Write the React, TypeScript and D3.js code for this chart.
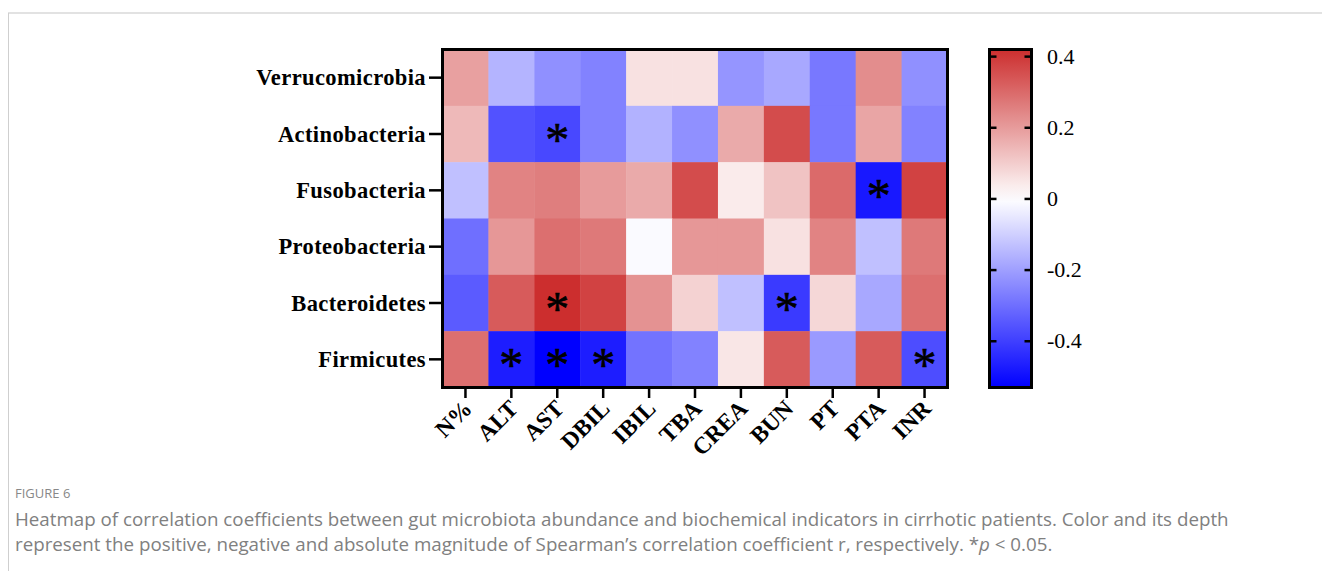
import React from "react";
import * as d3 from "d3";

const rows = ["Verrucomicrobia", "Actinobacteria", "Fusobacteria", "Proteobacteria", "Bacteroidetes", "Firmicutes"];
const cols = ["N%", "ALT", "AST", "DBIL", "IBIL", "TBA", "CREA", "BUN", "PT", "PTA", "INR"];

const verrucomicrobia = [0.19, -0.155, -0.23, -0.26, 0.06, 0.06, -0.22, -0.18, -0.28, 0.23, -0.23];
const actinobacteria = [0.14, -0.36, -0.38, -0.26, -0.16, -0.23, 0.17, 0.36, -0.28, 0.18, -0.26];
const fusobacteria = [-0.13, 0.25, 0.26, 0.2, 0.17, 0.36, 0.04, 0.12, 0.3, -0.48, 0.38];
const proteobacteria = [-0.3, 0.21, 0.29, 0.27, -0.01, 0.21, 0.21, 0.06, 0.25, -0.13, 0.27];
const bacteroidetes = [-0.34, 0.33, 0.42, 0.38, 0.22, 0.09, -0.13, -0.41, 0.08, -0.18, 0.29];
const firmicutes = [0.29, -0.47, -0.53, -0.47, -0.29, -0.26, 0.05, 0.33, -0.21, 0.33, -0.37];
const values = [verrucomicrobia, actinobacteria, fusobacteria, proteobacteria, bacteroidetes, firmicutes];

// significant cells: [row, col]
const significant: [number, number][] = [
  [1, 2], [2, 9], [4, 2], [4, 7], [5, 1], [5, 2], [5, 3], [5, 10],
];

const colorTicks = [0.4, 0.2, 0, -0.2, -0.4];
const colorTickLabels = ["0.4", "0.2", "0", "-0.2", "-0.4"];
const colorDomain = [-0.53, 0, 0.42];

export default function App() {
  const left = 442.5, right = 947.5, top = 49.5, bottom = 387.5;
  const x = d3.scaleBand<string>().domain(cols).range([left, right]);
  const y = d3.scaleBand<string>().domain(rows).range([top, bottom]);
  const color = d3
    .scaleLinear<string>()
    .domain(colorDomain)
    .range(["#0000ff", "#ffffff", "#cc2e2e"])
    .interpolate(d3.interpolateRgb);

  const cbLeft = 989.5, cbRight = 1031.5, cbTop = 49.5, cbBottom = 387.5;
  const cy = d3.scaleLinear().domain([colorDomain[0], colorDomain[2]]).range([cbBottom, cbTop]);
  const gradStops = d3.range(0, 1.0001, 0.05).map((t) => {
    const v = colorDomain[0] + t * (colorDomain[2] - colorDomain[0]);
    return { off: t, c: color(v) };
  });

  const serif = "'Liberation Serif', 'Times New Roman', serif";
  const sans = "'Open Sans', 'Noto Sans', sans-serif";

  return (
    <svg width={1322} height={571} style={{ position: "absolute", left: 0, top: 0, background: "#fff" }}>
      <defs>
        <linearGradient id="cbg" x1="0" y1="1" x2="0" y2="0">
          {gradStops.map((s, i) => (
            <stop key={i} offset={s.off} stopColor={s.c} />
          ))}
        </linearGradient>
      </defs>
      {/* page frame */}
      <line x1={8} x2={1322} y1={13} y2={13} stroke="#e2e2e2" strokeWidth={2} />
      <line x1={8.5} x2={8.5} y1={13} y2={571} stroke="#cfcfcf" strokeWidth={1} />

      {/* cells */}
      {values.map((row, ri) =>
        row.map((v, ci) => (
          <rect
            key={`${ri}-${ci}`}
            x={x(cols[ci])}
            y={y(rows[ri])}
            width={x.bandwidth() + 0.5}
            height={y.bandwidth() + 0.5}
            fill={color(v)}
          />
        ))
      )}
      {significant.map(([ri, ci], i) => (
        <text
          key={i}
          x={(x(cols[ci]) as number) + x.bandwidth() / 2}
          y={(y(rows[ri]) as number) + y.bandwidth() / 2 + 22}
          textAnchor="middle"
          fontFamily={serif}
          fontSize={48}
          stroke="#000"
          strokeWidth={0.6}
          fill="#000"
        >
          *
        </text>
      ))}
      <rect x={left} y={top} width={right - left} height={bottom - top} fill="none" stroke="#000" strokeWidth={3} />

      {/* y axis */}
      {rows.map((r) => {
        const yc = (y(r) as number) + y.bandwidth() / 2;
        return (
          <g key={r}>
            <line x1={429} x2={left} y1={yc} y2={yc} stroke="#000" strokeWidth={2.5} />
            <text x={426} y={yc + 7.5} textAnchor="end" fontFamily={serif} fontWeight="bold" fontSize={22.5} letterSpacing={0.4}>
              {r}
            </text>
          </g>
        );
      })}

      {/* x axis */}
      {cols.map((c) => {
        const xc = (x(c) as number) + x.bandwidth() / 2;
        return (
          <g key={c}>
            <line x1={xc} x2={xc} y1={bottom} y2={398} stroke="#000" strokeWidth={2.5} />
            <text
              transform={`translate(${xc + 8},${410}) rotate(-45)`}
              textAnchor="end"
              fontFamily={serif}
              fontWeight="bold"
              fontSize={23.5}
            >
              {c}
            </text>
          </g>
        );
      })}

      {/* color bar */}
      <rect x={cbLeft} y={cbTop} width={cbRight - cbLeft} height={cbBottom - cbTop} fill="url(#cbg)" />
      {colorTicks.map((t, i) => (
        <g key={t}>
          <line x1={cbLeft} x2={cbLeft + 7} y1={cy(t)} y2={cy(t)} stroke="#000" strokeWidth={2.5} />
          <line x1={cbRight - 7} x2={cbRight} y1={cy(t)} y2={cy(t)} stroke="#000" strokeWidth={2.5} />
          <text x={1047} y={cy(t) + 7} fontFamily={serif} fontSize={22} fill="#000">
            {colorTickLabels[i]}
          </text>
        </g>
      ))}
      <rect x={cbLeft} y={cbTop} width={cbRight - cbLeft} height={cbBottom - cbTop} fill="none" stroke="#000" strokeWidth={3} />

      {/* caption */}
      <text x={15} y={498} fontFamily={sans} fontSize={13} fill="#888">
        FIGURE 6
      </text>
      <text x={15} y={526} fontFamily={sans} fontSize={18.75} fill="#808080">
        Heatmap of correlation coefficients between gut microbiota abundance and biochemical indicators in cirrhotic patients. Color and its depth
      </text>
      <text x={15} y={551} fontFamily={sans} fontSize={18.75} fill="#808080">
        represent the positive, negative and absolute magnitude of Spearman’s correlation coefficient r, respectively. *<tspan fontStyle="italic">p</tspan> &lt; 0.05.
      </text>
    </svg>
  );
}
